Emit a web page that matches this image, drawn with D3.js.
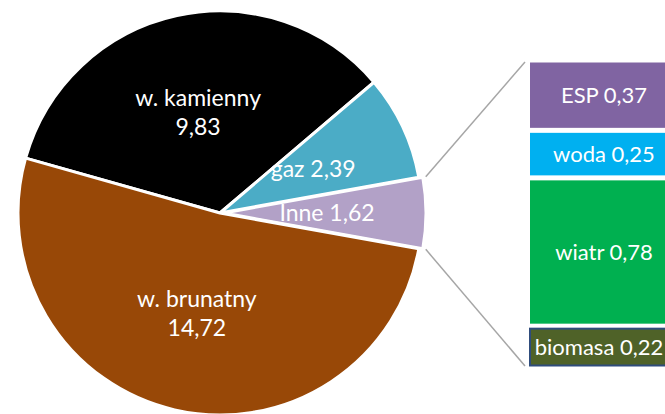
<!DOCTYPE html>
<html>
<head>
<meta charset="utf-8">
<script src="https://cdn.jsdelivr.net/npm/d3@7"></script>
<style>
  body { margin: 0; background: #fff; }
  svg { display: block; font-family: Lato, "Open Sans", sans-serif; }
</style>
</head>
<body>
<div id="chart"></div>
<script>
// main pie
const pieNames = ["w. kamienny", "gaz", "Inne", "w. brunatny"];
const pieValues = [9.83, 2.39, 1.62, 14.72];
const pieColors = ["#000000", "#4BACC6", "#B2A1C7", "#984807"];

// breakdown of "Inne"
const barNames = ["ESP", "woda", "wiatr", "biomasa"];
const barValues = [0.37, 0.25, 0.78, 0.22];
const barColors = ["#8064A2", "#00B0F0", "#00B050", "#4F6228"];

const fmt = v => v.toFixed(2).replace(".", ",");

const width = 665, height = 414;
const cx = 220, cy = 213, radius = 202;

const svg = d3.select("#chart").append("svg")
    .attr("width", width)
    .attr("height", height);

const total = d3.sum(pieValues);
const inneIdx = pieNames.indexOf("Inne");
// rotate so that "Inne" sits centred on the right, like Excel's bar-of-pie
const before = d3.sum(pieValues.slice(0, inneIdx)) + pieValues[inneIdx] / 2;
const start = Math.PI / 2 - before / total * 2 * Math.PI;

const pieData = pieNames.map((name, i) => ({ name, value: pieValues[i], color: pieColors[i] }));
const pie = d3.pie().value(d => d.value).sort(null)
    .startAngle(start).endAngle(start + 2 * Math.PI);
const arcs = pie(pieData);

const arc = d3.arc().innerRadius(0).outerRadius(radius);
const labelArc = d3.arc().innerRadius(103).outerRadius(103);
const explode = 4;

const offset = d => {
    if (d.data.name !== "Inne") return [0, 0];
    const a = (d.startAngle + d.endAngle) / 2;
    return [explode * Math.sin(a), -explode * Math.cos(a)];
};

const pieG = svg.append("g").attr("transform", `translate(${cx},${cy})`);

pieG.selectAll(".slice")
    .data(arcs)
    .enter()
    .append("path")
    .attr("class", "slice")
    .attr("transform", d => `translate(${offset(d)})`)
    .attr("d", arc)
    .attr("fill", d => d.data.color)
    .attr("stroke", "#fff")
    .attr("stroke-width", 3)
    .attr("stroke-linejoin", "round");

// labels
arcs.forEach(d => {
    const [x, y] = labelArc.centroid(d);
    const [ox, oy] = offset(d);
    const t = pieG.append("text")
        .attr("text-anchor", "middle")
        .attr("fill", "#fff")
        .style("font-size", "23px");
    if (d.data.name.startsWith("w.")) {
        t.append("tspan").attr("x", x + ox).attr("y", y + oy - 6).text(d.data.name);
        t.append("tspan").attr("x", x + ox).attr("y", y + oy + 23).text(fmt(d.data.value));
    } else {
        t.attr("x", x + ox).attr("y", y + oy + 8)
            .text(`${d.data.name} ${fmt(d.data.value)}`);
    }
});

// stacked bar
const barX = 530, barW = 150, gap = 5;
const barTotal = d3.sum(barValues);
const yBar = d3.scaleLinear().domain([0, barTotal]).range([60, 368]);

let acc = 0;
const barData = barNames.map((name, i) => {
    const d = { name, value: barValues[i], color: barColors[i], y0: acc, y1: acc + barValues[i] };
    acc += barValues[i];
    return d;
});

const barG = svg.append("g");
barG.selectAll(".seg")
    .data(barData)
    .enter()
    .append("rect")
    .attr("class", "seg")
    .attr("x", barX)
    .attr("y", d => yBar(d.y0) + gap / 2)
    .attr("width", barW)
    .attr("height", d => yBar(d.y1) - yBar(d.y0) - gap)
    .attr("fill", d => d.color)
    .attr("stroke", d => d.name === "biomasa" ? "#2F4C7C" : "none")
    .attr("stroke-width", 2);

barG.selectAll(".seg-label")
    .data(barData)
    .enter()
    .append("text")
    .attr("class", "seg-label")
    .attr("x", d => d.name === "biomasa" ? 599 : 604)
    .attr("y", d => (yBar(d.y0) + yBar(d.y1)) / 2 + 8)
    .attr("text-anchor", "middle")
    .attr("fill", "#fff")
    .style("font-size", "22px")
    .text(d => `${d.name} ${fmt(d.value)}`);

// connector lines from the "Inne" slice to the bar
const inne = arcs[inneIdx];
const [iox, ioy] = offset(inne);
const edge = a => [cx + iox + (radius + 3) * Math.sin(a), cy + ioy - (radius + 3) * Math.cos(a)];
const p1 = edge(inne.startAngle), p2 = edge(inne.endAngle);

svg.append("line")
    .attr("x1", p1[0]).attr("y1", p1[1])
    .attr("x2", barX - 5).attr("y2", yBar(0) + 2)
    .attr("stroke", "#A6A6A6").attr("stroke-width", 1.5);
svg.append("line")
    .attr("x1", p2[0]).attr("y1", p2[1])
    .attr("x2", barX - 5).attr("y2", yBar(barTotal) - 2)
    .attr("stroke", "#A6A6A6").attr("stroke-width", 1.5);
</script>
</body>
</html>
